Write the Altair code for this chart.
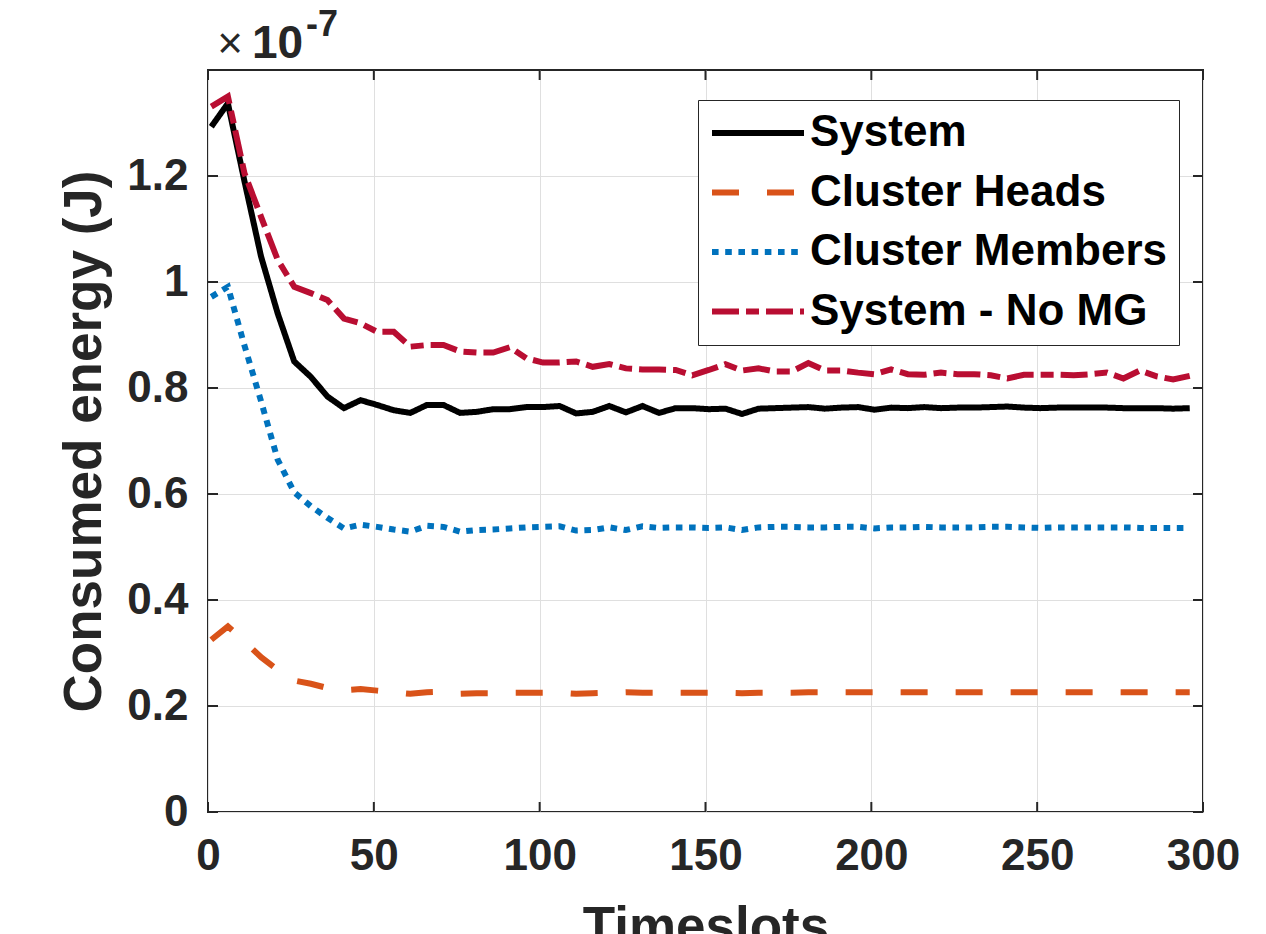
import altair as alt
import pandas as pd

# ---------------- data (values in units of 1e-7 J) ----------------
timeslots = [1, 6, 11, 16, 21, 26, 31, 36, 41, 46, 51, 56, 61, 66, 71, 76, 81, 86, 91, 96,
             101, 106, 111, 116, 121, 126, 131, 136, 141, 146, 151, 156, 161, 166, 171, 176, 181, 186, 191, 196,
             201, 206, 211, 216, 221, 226, 231, 236, 241, 246, 251, 256, 261, 266, 271, 276, 281, 286, 291, 296]

system = [1.293, 1.337, 1.190, 1.048, 0.941, 0.850, 0.821, 0.784, 0.762, 0.777,
          0.768, 0.758, 0.753, 0.768, 0.768, 0.753, 0.755, 0.760, 0.760, 0.764,
          0.764, 0.766, 0.752, 0.755, 0.766, 0.754, 0.766, 0.753, 0.762, 0.762,
          0.760, 0.761, 0.751, 0.761, 0.762, 0.763, 0.764, 0.761, 0.763, 0.764,
          0.759, 0.763, 0.762, 0.764, 0.762, 0.763, 0.763, 0.764, 0.765, 0.763,
          0.762, 0.763, 0.763, 0.763, 0.763, 0.762, 0.762, 0.762, 0.761, 0.762]

cluster_heads = [0.325, 0.350, 0.322, 0.292, 0.268, 0.248, 0.242, 0.234, 0.230, 0.232,
                 0.229, 0.226, 0.223, 0.226, 0.227, 0.223, 0.224, 0.224, 0.225, 0.225,
                 0.225, 0.225, 0.223, 0.224, 0.225, 0.226, 0.225, 0.225, 0.225, 0.225,
                 0.225, 0.225, 0.224, 0.225, 0.225, 0.225, 0.226, 0.226, 0.226, 0.226,
                 0.226, 0.226, 0.226, 0.226, 0.226, 0.226, 0.226, 0.226, 0.226, 0.226,
                 0.226, 0.226, 0.226, 0.226, 0.226, 0.226, 0.226, 0.226, 0.226, 0.226]

cluster_members = [0.972, 0.991, 0.880, 0.775, 0.665, 0.603, 0.577, 0.555, 0.535, 0.542,
                   0.538, 0.533, 0.529, 0.540, 0.538, 0.529, 0.532, 0.533, 0.535, 0.537,
                   0.538, 0.539, 0.531, 0.532, 0.537, 0.532, 0.539, 0.536, 0.537, 0.537,
                   0.536, 0.537, 0.532, 0.537, 0.538, 0.538, 0.537, 0.537, 0.538, 0.538,
                   0.535, 0.537, 0.537, 0.538, 0.537, 0.537, 0.537, 0.538, 0.538, 0.537,
                   0.536, 0.537, 0.537, 0.537, 0.537, 0.537, 0.536, 0.536, 0.536, 0.536]

system_no_mg = [1.331, 1.350, 1.205, 1.123, 1.042, 0.991, 0.979, 0.966, 0.931, 0.922,
                0.906, 0.906, 0.878, 0.881, 0.881, 0.869, 0.867, 0.867, 0.877, 0.856,
                0.848, 0.848, 0.850, 0.840, 0.845, 0.837, 0.835, 0.835, 0.834, 0.824,
                0.834, 0.845, 0.833, 0.837, 0.831, 0.831, 0.847, 0.833, 0.833, 0.829,
                0.826, 0.835, 0.826, 0.825, 0.829, 0.826, 0.826, 0.824, 0.818, 0.825,
                0.825, 0.825, 0.824, 0.826, 0.829, 0.818, 0.833, 0.822, 0.816, 0.823]

series_names = ["System", "Cluster Heads", "Cluster Members", "System - No MG"]
series_values = [system, cluster_heads, cluster_members, system_no_mg]
series_colors = ["#000000", "#D95319", "#0072BD", "#B90E32"]
series_dashes = [[1, 0], [27, 28], [6.6, 6.6], [27, 7, 13, 7]]

x_tick_values = [0, 50, 100, 150, 200, 250, 300]
y_tick_values = [0, 0.2, 0.4, 0.6, 0.8, 1.0, 1.2]

rows = []
for name, vals in zip(series_names, series_values):
    for t, v in zip(timeslots, vals):
        rows.append({"x": t, "y": v, "series": name})
df = pd.DataFrame(rows)

# ---------------- styling ----------------
W, H = 995, 742
FONT = "Liberation Sans"
AXIS_COLOR = "#262626"
LINE_W = 6

x_axis = alt.Axis(values=x_tick_values, title="Timeslots", labelPadding=22,
                  labelFlush=False, labelOverlap=False,
                  titleX=W / 2, titleY=131, titleAlign="center", titleBaseline="alphabetic")
y_axis = alt.Axis(values=y_tick_values, format=".1~f", title="Consumed energy (J)", labelPadding=20,
                  labelOverlap=False,
                  titleAngle=270, titleX=-124, titleY=H / 2, titleAlign="center", titleBaseline="middle")

x_enc = alt.X("x:Q", scale=alt.Scale(domain=[0, 300], nice=False, zero=False), axis=x_axis)
y_enc = alt.Y("y:Q", scale=alt.Scale(domain=[0, 1.4], nice=False, zero=False), axis=y_axis)

legend = alt.Legend(title=None, orient="none", legendX=490, legendY=30,
                    fillColor="white", strokeColor=AXIS_COLOR, padding=11,
                    labelFont=FONT, labelFontSize=44, labelFontWeight="bold", labelColor="black",
                    labelLimit=0, symbolType="stroke", symbolSize=8464, symbolStrokeWidth=LINE_W,
                    clipHeight=44, rowPadding=15.5, labelOffset=3)

color_enc = alt.Color("series:N", scale=alt.Scale(domain=series_names, range=series_colors),
                      legend=legend)
dash_enc = alt.StrokeDash("series:N", scale=alt.Scale(domain=series_names, range=series_dashes),
                          legend=legend)

layers = []
for name in series_names:
    layers.append(
        alt.Chart(df).transform_filter(alt.datum.series == name)
        .mark_line(strokeWidth=LINE_W)
        .encode(x=x_enc, y=y_enc, color=color_enc, strokeDash=dash_enc)
    )

# inward ticks on all four sides
xt = pd.DataFrame({"x": x_tick_values})
yt = pd.DataFrame({"y": y_tick_values})
layers.append(alt.Chart(xt).mark_rule(color=AXIS_COLOR, strokeWidth=2)
              .encode(x=x_enc, y=alt.value(H), y2=alt.value(H - 10)))
layers.append(alt.Chart(xt).mark_rule(color=AXIS_COLOR, strokeWidth=2)
              .encode(x=x_enc, y=alt.value(0), y2=alt.value(10)))
layers.append(alt.Chart(yt).mark_rule(color=AXIS_COLOR, strokeWidth=2)
              .encode(y=y_enc, x=alt.value(0), x2=alt.value(10)))
layers.append(alt.Chart(yt).mark_rule(color=AXIS_COLOR, strokeWidth=2)
              .encode(y=y_enc, x=alt.value(W), x2=alt.value(W - 10)))

# exponent annotation  "×10^-7"
layers.append(alt.Chart(pd.DataFrame({"t": ["×"]})).mark_text(
    font=FONT, fontSize=44, fontWeight="normal", color=AXIS_COLOR, align="center", baseline="alphabetic")
    .encode(x=alt.value(22), y=alt.value(-12), text="t:N"))
layers.append(alt.Chart(pd.DataFrame({"t": ["10"]})).mark_text(
    font=FONT, fontSize=46, fontWeight="bold", color=AXIS_COLOR, align="left", baseline="alphabetic")
    .encode(x=alt.value(44), y=alt.value(-12), text="t:N"))
layers.append(alt.Chart(pd.DataFrame({"t": ["-7"]})).mark_text(
    font=FONT, fontSize=36, fontWeight="bold", color=AXIS_COLOR, align="left", baseline="alphabetic")
    .encode(x=alt.value(98), y=alt.value(-34), text="t:N"))

chart = (
    alt.layer(*layers)
    .properties(width=W, height=H,
                padding={"left": 200, "top": 62, "right": 50, "bottom": 122},
                autosize=alt.AutoSizeParams(type="none"))
    .configure_view(stroke=AXIS_COLOR, strokeWidth=2)
    .configure_axis(labelFont=FONT, labelFontSize=44, labelFontWeight="bold", labelColor=AXIS_COLOR,
                    titleFont=FONT, titleFontSize=53, titleFontWeight="bold", titleColor=AXIS_COLOR,
                    grid=True, gridColor="#DFDFDF", gridWidth=1,
                    ticks=False, tickSize=0, domain=False)
)

chart.save("out.html", embed_options={"renderer": "svg", "actions": False})
